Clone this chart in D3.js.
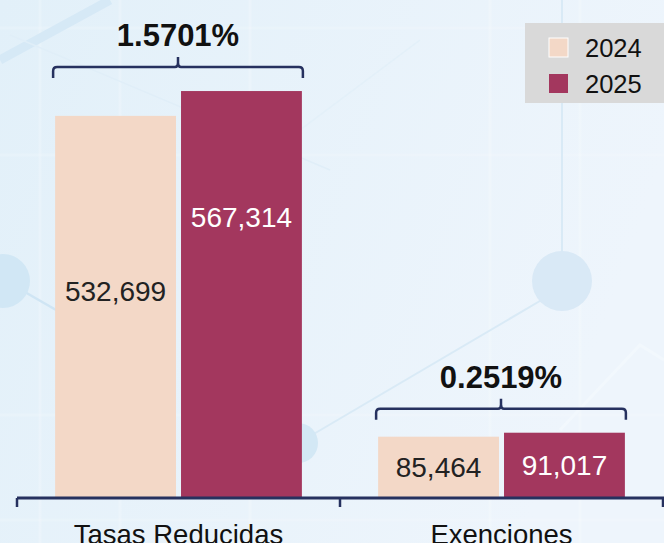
<!DOCTYPE html>
<html><head><meta charset="utf-8">
<script src="https://cdn.jsdelivr.net/npm/d3@7"></script>
<style>html,body{margin:0;padding:0;overflow:hidden;background:#e8f2fa}</style>
</head><body>
<svg id="chart" width="664" height="543"></svg>
<script>
// ---- data ----
const categories = ["Tasas Reducidas", "Exenciones"];
const seriesNames = ["2024", "2025"];
const values2024 = [532699, 85464];
const values2025 = [567314, 91017];
const pctLabels = ["1.5701%", "0.2519%"];

// ---- styles ----
const colors = {"2024": "#f3d8c7", "2025": "#a3375e"};
const labelColors = {"2024": "#222222", "2025": "#ffffff"};
const tallLabelFrac = {"2024": 0.46, "2025": 0.31};
const navy = "#26315f";
const font = "'Liberation Sans', Arial, Helvetica, sans-serif";

const W = 664, H = 543;
const svg = d3.select("#chart");

// ---- background ----
const defs = svg.append("defs");
const g1 = defs.append("linearGradient").attr("id", "bg").attr("x1", 0).attr("y1", 0).attr("x2", 1).attr("y2", 0.3);
g1.append("stop").attr("offset", "0%").attr("stop-color", "#e2f0f9");
g1.append("stop").attr("offset", "100%").attr("stop-color", "#eef5fc");
svg.append("rect").attr("width", W).attr("height", H).attr("fill", "url(#bg)");

const deco = svg.append("g");
// faint grid
[40, 120, 250, 490, 580].forEach(x => deco.append("line").attr("x1", x).attr("x2", x).attr("y1", 0).attr("y2", H)
  .attr("stroke", "#ffffff").attr("stroke-opacity", 0.2).attr("stroke-width", 3));
[28, 155, 415, 520].forEach(y => deco.append("line").attr("x1", 0).attr("x2", W).attr("y1", y).attr("y2", y)
  .attr("stroke", "#ffffff").attr("stroke-opacity", 0.15).attr("stroke-width", 3));
// network lines
deco.append("line").attr("x1", 0).attr("y1", 60).attr("x2", 110).attr("y2", 0).attr("stroke", "#d6e9f6").attr("stroke-width", 9);
deco.append("line").attr("x1", 10).attr("y1", 35).attr("x2", 330).attr("y2", 170).attr("stroke", "#e0eef8").attr("stroke-width", 1.5);
deco.append("line").attr("x1", 300).attr("y1", 130).attr("x2", 420).attr("y2", 40).attr("stroke", "#e3f0f9").attr("stroke-width", 1.5);
deco.append("line").attr("x1", 562).attr("y1", 0).attr("x2", 562).attr("y2", 260).attr("stroke", "#d9eaf6").attr("stroke-width", 2);
deco.append("line").attr("x1", 545).attr("y1", 298).attr("x2", 295).attr("y2", 445).attr("stroke", "#d9eaf6").attr("stroke-width", 2);
deco.append("line").attr("x1", 4).attr("y1", 280).attr("x2", 70).attr("y2", 318).attr("stroke", "#cfe5f4").attr("stroke-width", 2.5);
deco.append("polyline").attr("points", "560,430 640,345 664,360").attr("fill", "none").attr("stroke", "#f2f8fd").attr("stroke-width", 3);
// circles
deco.append("circle").attr("cx", 3).attr("cy", 281).attr("r", 27).attr("fill", "#d1e7f5");
deco.append("circle").attr("cx", 562).attr("cy", 281).attr("r", 30).attr("fill", "#d9e9f6");
deco.append("circle").attr("cx", 298).attr("cy", 443).attr("r", 20).attr("fill", "#d3e8f5");

// ---- scales ----
const baseY = 498;
const x0 = d3.scaleBand().domain(categories).range([17, 663]).padding(0);
const bw = x0.bandwidth();
const x1 = d3.scaleBand().domain(seriesNames).range([bw * 0.118, bw * 0.882]).paddingInner(0.04);
const y = d3.scaleLinear().domain([0, 600000]).range([baseY, 67.6]);

const rows = categories.map((c, i) => ({
  cat: c, pct: pctLabels[i],
  vals: [{s: "2024", v: values2024[i]}, {s: "2025", v: values2025[i]}]
}));

const groups = svg.selectAll("g.grp").data(rows).join("g").attr("class", "grp")
  .attr("transform", d => `translate(${x0(d.cat)},0)`);

groups.selectAll("rect.bar").data(d => d.vals).join("rect").attr("class", "bar")
  .attr("x", d => x1(d.s)).attr("width", x1.bandwidth())
  .attr("y", d => y(d.v)).attr("height", d => baseY - y(d.v))
  .attr("fill", d => colors[d.s]);

const fmt = d3.format(",");
groups.selectAll("text.val").data(d => d.vals).join("text").attr("class", "val")
  .attr("x", d => x1(d.s) + x1.bandwidth() / 2)
  .attr("y", d => {
    const h = baseY - y(d.v);
    const f = h > 150 ? tallLabelFrac[d.s] : 0.5;
    return y(d.v) + h * f;
  })
  .attr("dy", "0.35em").attr("text-anchor", "middle")
  .attr("font-family", font).attr("font-size", 28)
  .attr("fill", d => labelColors[d.s]).text(d => fmt(d.v));

// braces
groups.each(function(d) {
  const g = d3.select(this);
  const top = y(d3.max(d.vals, v => v.v));
  const by = top - 24;
  const xl = x1("2024") - 2, xr = x1("2025") + x1.bandwidth() + 1;
  const xm = (xl + xr) / 2, r = 4;
  const p = d3.path();
  p.moveTo(xl, by + 11);
  p.lineTo(xl, by + r);
  p.quadraticCurveTo(xl, by, xl + r, by);
  p.lineTo(xm - 3, by);
  p.quadraticCurveTo(xm, by, xm, by - 4);
  p.lineTo(xm, by - 10);
  p.moveTo(xm, by - 4);
  p.quadraticCurveTo(xm, by, xm + 3, by);
  p.lineTo(xr - r, by);
  p.quadraticCurveTo(xr, by, xr, by + r);
  p.lineTo(xr, by + 11);
  g.append("path").attr("d", p.toString()).attr("fill", "none")
    .attr("stroke", navy).attr("stroke-width", 2.5);
  g.append("text").attr("x", xm).attr("y", by - 21).attr("text-anchor", "middle")
    .attr("font-family", font).attr("font-weight", "bold").attr("font-size", 31)
    .attr("fill", "#111").text(d.pct);
});

// axis
const axis = svg.append("g");
axis.append("line").attr("x1", 17).attr("x2", W).attr("y1", baseY).attr("y2", baseY)
  .attr("stroke", navy).attr("stroke-width", 3);
const tickXs = categories.map(c => x0(c)).concat([x0(categories[categories.length - 1]) + bw]);
axis.selectAll("line.tk").data(tickXs).join("line").attr("class", "tk")
  .attr("x1", d => d).attr("x2", d => d).attr("y1", baseY).attr("y2", baseY + 9)
  .attr("stroke", navy).attr("stroke-width", 2.5);
axis.selectAll("text.cat").data(categories).join("text").attr("class", "cat")
  .attr("x", d => x0(d) + bw / 2).attr("y", 544).attr("text-anchor", "middle")
  .attr("font-family", font).attr("font-size", 27.5).attr("fill", "#111").text(d => d);

// legend
const leg = svg.append("g");
leg.append("rect").attr("x", 525).attr("y", 23).attr("width", 139).attr("height", 80).attr("fill", "#d9d9d9");
const li = leg.selectAll("g.li").data(seriesNames).join("g").attr("class", "li")
  .attr("transform", (d, i) => `translate(549,${38 + i * 36})`);
li.append("rect").attr("width", 19).attr("height", 19)
  .attr("fill", d => colors[d]).attr("stroke", d => d === "2024" ? "#ffffff" : "none").attr("stroke-width", 1);
li.append("text").attr("x", 36).attr("y", 19).attr("font-family", font).attr("font-size", 25.5)
  .attr("fill", "#111").text(d => d);
</script>
</body></html>
